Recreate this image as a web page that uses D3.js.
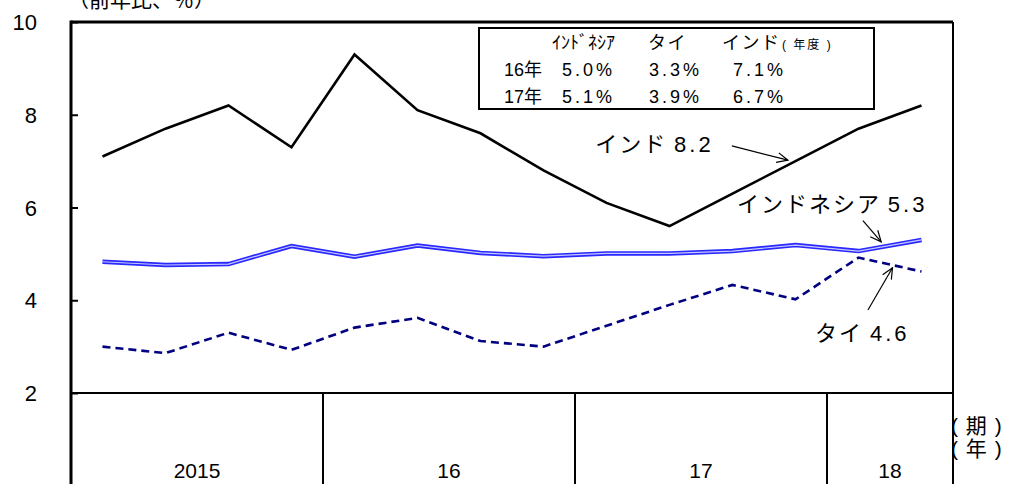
<!DOCTYPE html>
<html><head><meta charset="utf-8">
<script src="https://cdn.jsdelivr.net/npm/d3@7"></script>
<style>
body{margin:0;background:#fff;}
svg{display:block;}
text{font-family:"Liberation Sans","Noto Sans CJK JP",sans-serif;fill:#000;}
</style></head>
<body>
<svg id="c" width="1011" height="484"></svg>
<script>
// ---- data ----
const years = ["2015","16","17","18"];
const quartersPerYear = [4,4,4,2];
const india = [7.1,7.7,8.2,7.3,9.3,8.1,7.6,6.8,6.1,5.6,6.3,7.0,7.7,8.2];
const indonesia = [4.83,4.76,4.78,5.17,4.94,5.18,5.02,4.95,5.01,5.01,5.06,5.19,5.06,5.30];
const thailand = [3.0,2.86,3.3,2.93,3.41,3.62,3.12,3.0,3.45,3.9,4.33,4.02,4.92,4.62];
const yTicks = [2,4,6,8,10];
const tableHeader = ["ｲﾝﾄﾞﾈｼｱ","タイ","インド"];
const tableRows = ["16年","17年"];
const tableIndonesia = ["5.0%","5.1%"];
const tableThai = ["3.3%","3.9%"];
const tableIndia = ["7.1%","6.7%"];
const annotations = [
  {name:"インド", val:"8.2", tx:8.32, ty:7.2, ax1:10.49, ay1:7.33, ax2:11.38, ay2:7.02},
  {name:"インドネシア", val:"5.3", tx:10.57, ty:5.9, ax1:12.57, ay1:5.715, ax2:12.86, ay2:5.26},
  {name:"タイ", val:"4.6", tx:11.81, ty:3.12, ax1:12.65, ay1:3.79, ax2:13.04, ay2:4.70}
];

// ---- layout ----
const L=71, R=953, T=22, B=393, BOT=484;
const n = india.length;
const svg = d3.select("#c");
const x = d3.scaleLinear().domain([0,n]).range([L,R]);
const y = d3.scaleLinear().domain([2,10]).range([B,T]);

// y axis
const yAxis = d3.axisLeft(y).tickValues(yTicks).tickSizeInner(-7).tickSizeOuter(0).tickPadding(34);
const ga = svg.append("g").attr("transform",`translate(${L},0)`).call(yAxis);
ga.select(".domain").remove();
ga.selectAll(".tick line").attr("stroke","#000").attr("stroke-width",2);
ga.selectAll(".tick text").attr("font-size",22).attr("font-family","Liberation Sans").attr("dy","0.35em");

// frame
svg.append("line").attr("x1",L).attr("x2",R).attr("y1",T).attr("y2",T).attr("stroke","#000").attr("stroke-width",3);
svg.append("line").attr("x1",L).attr("x2",L).attr("y1",T-1.5).attr("y2",BOT).attr("stroke","#000").attr("stroke-width",3);
svg.append("line").attr("x1",R).attr("x2",R).attr("y1",T).attr("y2",BOT).attr("stroke","#000").attr("stroke-width",2);
svg.append("line").attr("x1",L).attr("x2",R).attr("y1",B).attr("y2",B).attr("stroke","#000").attr("stroke-width",2);

// year dividers and labels
let cum=0;
years.forEach((yr,i)=>{
  const s=cum, e=cum+quartersPerYear[i];
  if(i>0) svg.append("line").attr("x1",x(s)).attr("x2",x(s)).attr("y1",B).attr("y2",BOT).attr("stroke","#000").attr("stroke-width",2);
  svg.append("text").attr("x",(x(s)+x(e))/2).attr("y",478).attr("text-anchor","middle").attr("font-size",21).text(yr);
  cum=e;
});

// unit labels
svg.append("text").attr("x",68).attr("y",7).attr("font-size",21).attr("font-family","Noto Sans CJK JP").text("（前年比、％）");
svg.append("text").attr("x",951).attr("y",433).attr("font-size",21).attr("font-family","Noto Sans CJK JP").attr("letter-spacing",1).text("( 期 )");
svg.append("text").attr("x",951).attr("y",456).attr("font-size",21).attr("font-family","Noto Sans CJK JP").attr("letter-spacing",1).text("( 年 )");

// lines
const line = d3.line().x((d,i)=>x(i+0.5)).y(d=>y(d));
svg.append("path").datum(thailand).attr("d",line).attr("fill","none").attr("stroke","#000080").attr("stroke-width",2.6).attr("stroke-dasharray","8,5");
svg.append("path").datum(indonesia).attr("d",line).attr("fill","none").attr("stroke","#2828ff").attr("stroke-width",4.5);
svg.append("path").datum(indonesia).attr("d",line).attr("fill","none").attr("stroke","#c8c8ff").attr("stroke-width",1.2);
svg.append("path").datum(india).attr("d",line).attr("fill","none").attr("stroke","#000").attr("stroke-width",2.6);

// legend table
const tb = svg.append("g");
tb.append("rect").attr("x",479).attr("y",28).attr("width",395).attr("height",81).attr("fill","#fff").attr("stroke","#000").attr("stroke-width",2);
const hx=[552,648,722];
tableHeader.forEach((h,i)=>{
  tb.append("text").attr("x",hx[i]).attr("y",49).attr("font-size",18).attr("font-family","Noto Sans CJK JP").attr("letter-spacing",i==0?0:1.5).text(h);
});
tb.append("text").attr("x",782).attr("y",49).attr("font-size",12).attr("font-family","Noto Sans CJK JP").attr("letter-spacing",2).text("( 年度 )");
tableRows.forEach((r,j)=>{
  const yy = 76 + j*27;
  tb.append("text").attr("x",504).attr("y",yy).attr("font-size",18).text(r);
  tb.append("text").attr("x",562).attr("y",yy).attr("font-size",18).attr("letter-spacing",3).text(tableIndonesia[j]);
  tb.append("text").attr("x",649).attr("y",yy).attr("font-size",18).attr("letter-spacing",3).text(tableThai[j]);
  tb.append("text").attr("x",733).attr("y",yy).attr("font-size",18).attr("letter-spacing",3).text(tableIndia[j]);
});

// annotations
svg.append("defs").append("marker").attr("id","arr").attr("viewBox","0 0 12 12").attr("refX",11).attr("refY",6)
  .attr("markerWidth",12).attr("markerHeight",12).attr("markerUnits","userSpaceOnUse").attr("orient","auto")
  .append("path").attr("d","M0,1 L11,6 L0,11").attr("fill","none").attr("stroke","#000").attr("stroke-width",1.2);
annotations.forEach(a=>{
  const t = svg.append("text").attr("x",x(a.tx)).attr("y",y(a.ty)).attr("font-size",22);
  t.append("tspan").attr("font-family","Noto Sans CJK JP").attr("letter-spacing",2).text(a.name+" ");
  t.append("tspan").attr("letter-spacing",3).text(a.val);
  svg.append("line").attr("x1",x(a.ax1)).attr("y1",y(a.ay1)).attr("x2",x(a.ax2)).attr("y2",y(a.ay2))
    .attr("stroke","#000").attr("stroke-width",1.2).attr("marker-end","url(#arr)");
});
</script>
</body></html>
